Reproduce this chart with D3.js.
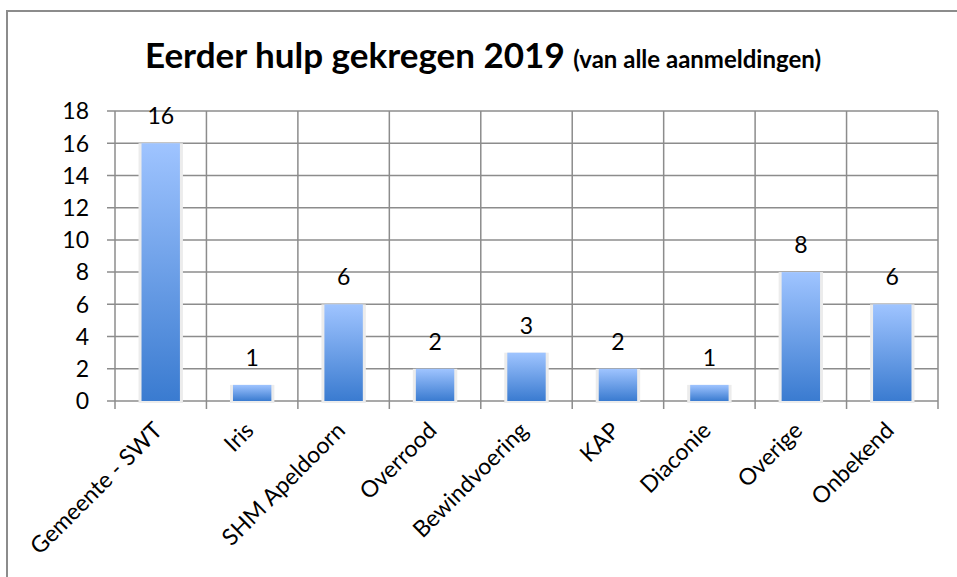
<!DOCTYPE html>
<html>
<head>
<meta charset="utf-8">
<script src="https://cdn.jsdelivr.net/npm/d3@7"></script>
<style>
  body { margin: 0; background: #fff; }
  text { font-family: Lato, "Open Sans", sans-serif; fill: #000; }
</style>
</head>
<body>
<svg width="957" height="577"></svg>
<script>
const categories = ["Gemeente - SWT", "Iris", "SHM Apeldoorn", "Overrood", "Bewindvoering", "KAP", "Diaconie", "Overige", "Onbekend"];
const values = [16, 1, 6, 2, 3, 2, 1, 8, 6];
const yTicks = [0, 2, 4, 6, 8, 10, 12, 14, 16, 18];

const svg = d3.select("svg");
const plotLeft = 115, plotRight = 938, plotTop = 111, plotBottom = 401;

// outer chart border (right and bottom edges fall outside the picture)
svg.append("rect")
    .attr("x", 7).attr("y", 11)
    .attr("width", 960).attr("height", 580)
    .attr("fill", "none")
    .attr("stroke", "#8c8c8c")
    .attr("stroke-width", 2);

const defs = svg.append("defs");
const grad = defs.append("linearGradient")
    .attr("id", "barGrad")
    .attr("x1", 0).attr("y1", 0).attr("x2", 0).attr("y2", 1);
grad.append("stop").attr("offset", "0%").attr("stop-color", "#9fc4ff");
grad.append("stop").attr("offset", "100%").attr("stop-color", "#3a7bd0");

const x = d3.scaleBand().domain(categories).range([plotLeft, plotRight]).paddingInner(0).paddingOuter(0);
const y = d3.scaleLinear().domain([0, 18]).range([plotBottom, plotTop]);

// horizontal gridlines
svg.append("g")
    .selectAll("line")
    .data(yTicks)
    .enter().append("line")
    .attr("x1", plotLeft - 8).attr("x2", plotRight)
    .attr("y1", d => y(d)).attr("y2", d => y(d))
    .attr("stroke", "#8c8c8c")
    .attr("stroke-width", 1.5);

// vertical gridlines at category boundaries
const bounds = categories.map(c => x(c)).concat([plotRight]);
svg.append("g")
    .selectAll("line")
    .data(bounds)
    .enter().append("line")
    .attr("x1", d => d).attr("x2", d => d)
    .attr("y1", plotTop).attr("y2", plotBottom + 8)
    .attr("stroke", "#8c8c8c")
    .attr("stroke-width", 1.5);

// y tick labels
svg.append("g")
    .selectAll("text")
    .data(yTicks)
    .enter().append("text")
    .attr("x", plotLeft - 26)
    .attr("y", d => y(d))
    .attr("dy", "0.36em")
    .attr("text-anchor", "end")
    .attr("font-size", 23)
    .text(d => d);

const barW = x.bandwidth() * 0.42;

// bar shadows
svg.append("g")
    .selectAll("rect")
    .data(values)
    .enter().append("rect")
    .attr("x", (d, i) => x(categories[i]) + x.bandwidth() / 2 - barW / 2 - 3)
    .attr("y", d => y(d))
    .attr("width", barW + 6)
    .attr("height", d => plotBottom - y(d) + 2)
    .attr("fill", "#ececec");

// bars
svg.append("g")
    .selectAll("rect")
    .data(values)
    .enter().append("rect")
    .attr("x", (d, i) => x(categories[i]) + x.bandwidth() / 2 - barW / 2)
    .attr("y", d => y(d))
    .attr("width", barW)
    .attr("height", d => plotBottom - y(d))
    .attr("fill", "url(#barGrad)");

// value labels
svg.append("g")
    .selectAll("text")
    .data(values)
    .enter().append("text")
    .attr("x", (d, i) => x(categories[i]) + x.bandwidth() / 2)
    .attr("y", d => y(d) - 19)
    .attr("text-anchor", "middle")
    .attr("font-size", 23)
    .text(d => d);

// category labels
svg.append("g")
    .selectAll("text")
    .data(categories)
    .enter().append("text")
    .attr("transform", d => `translate(${x(d) + x.bandwidth() / 2 + 3},${plotBottom + 31}) rotate(-45)`)
    .attr("text-anchor", "end")
    .attr("font-size", 23)
    .text(d => d);

// title
const title = svg.append("text")
    .attr("x", 145)
    .attr("y", 68)
    .attr("font-weight", "bold");
title.append("tspan").attr("font-size", 35).text("Eerder hulp gekregen 2019 ");
title.append("tspan").attr("font-size", 24).text("(van alle aanmeldingen)");
</script>
</body>
</html>
